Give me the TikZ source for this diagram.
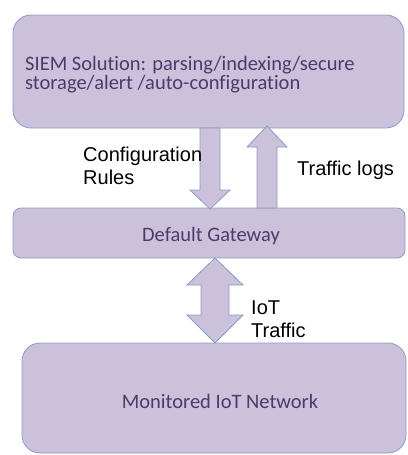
\documentclass[tikz,border=0pt]{standalone}
\usepackage{fontspec}
\setmainfont{Carlito}[Ligatures=NoCommon]
\newfontfamily\arialf{Liberation Sans}
\definecolor{boxfill}{HTML}{CCC1DA}
\definecolor{boxline}{HTML}{8A9CC2}
\definecolor{boxtext}{HTML}{4B3B6B}
\begin{document}
\begin{tikzpicture}[x=1pt,y=-1pt,
  blk/.style={fill=boxfill,draw=boxline,line width=0.8pt},
  btext/.style={text=boxtext,inner sep=0pt,font=\fontsize{20.5}{21}\selectfont},
  ltext/.style={text=black,inner sep=0pt,align=left,font=\arialf\fontsize{20}{23}\selectfont}]
\useasboundingbox (0,0) rectangle (407,455);
% boxes
\draw[blk,rounded corners=18pt] (13,15) rectangle (404,128);
\draw[blk,rounded corners=8pt] (13,208) rectangle (405,258);
\draw[blk,rounded corners=18pt] (22,343) rectangle (406,453);
% down arrow (configuration rules)
\draw[blk,line join=miter] (200,128) -- (220,128) -- (220,190) -- (230,190) -- (210,209) -- (190,190) -- (200,190) -- cycle;
% up arrow (traffic logs)
\draw[blk,line join=miter] (267,126) -- (287,147) -- (277,147) -- (277,208) -- (257,208) -- (257,147) -- (247,147) -- cycle;
% double arrow
\draw[blk,line join=miter] (215,258) -- (243,285) -- (229,285) -- (229,315) -- (243,315) -- (215,343) -- (187,315) -- (201,315) -- (201,285) -- (187,285) -- cycle;
% texts
\node[btext,anchor=base west] (t1) at (25,70) {SIEM Solution: parsing/indexing/secure};
\node[btext,anchor=base west] (t2) at (25,89) {storage/alert /auto-configuration};
\node[btext,anchor=base] (gwt) at (211,241) {Default Gateway};
\node[btext,anchor=base] (mon) at (220,408) {Monitored IoT Network};
\node[ltext,anchor=base west] (cr1) at (83,161) {Configuration};
\node[ltext,anchor=base west] (cr2) at (83,184) {Rules};
\node[ltext,anchor=base west] (tl) at (297,175) {Traffic logs};
\node[ltext,anchor=base west] (it1) at (251,314) {IoT};
\node[ltext,anchor=base west] (it2) at (251,337) {Traffic};
\end{tikzpicture}
\end{document}
